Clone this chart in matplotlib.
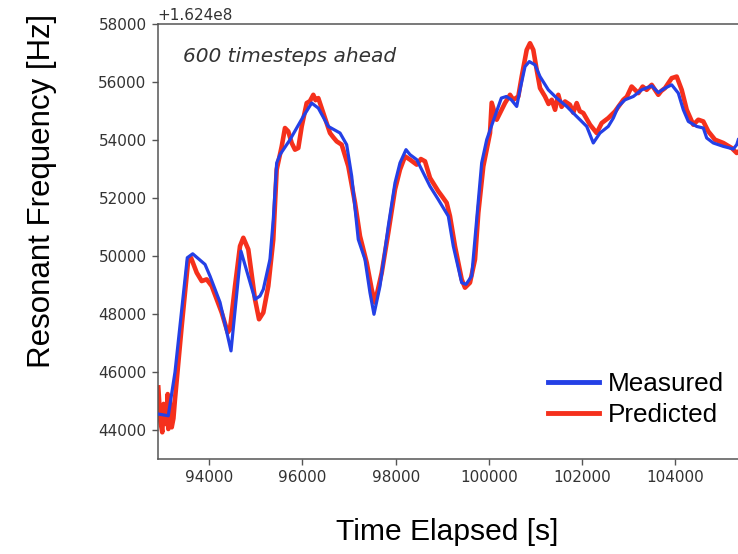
import matplotlib
matplotlib.use("Agg")
import matplotlib.pyplot as plt
import numpy as np

# offset used on the y axis
OFFSET = 1.624e8

# Measured (blue) - time [s], frequency minus offset [Hz]
t_measured = [92906, 93120, 93264, 93528, 93644, 93908, 94015, 94230, 94466,
              94680, 94980, 95088, 95159, 95302, 95373, 95446, 95517, 95732,
              96017, 96197, 96339, 96554, 96805, 96948, 97056, 97197, 97341,
              97448, 97534, 97663, 97841, 97985, 98092, 98221, 98307, 98451,
              98736, 98914, 99129, 99236, 99416, 99509, 99631, 99738, 99845,
              99953, 100052, 100267, 100374, 100481, 100597, 100667, 100775,
              100867, 100990, 101097, 101275, 101455, 101670, 101884, 102099,
              102240, 102384, 102562, 102670, 102777, 102921, 103099, 103279,
              103494, 103635, 103779, 103923, 104064, 104172, 104279, 104459,
              104601, 104674, 104815, 105030, 105245, 105318, 105352]
f_measured = [44551, 44492, 45997, 49945, 50080, 49714, 49312, 48406, 46730,
              50172, 48509, 48623, 48854, 49887, 51263, 53215, 53501, 54017,
              54819, 55281, 55108, 54475, 54248, 53845, 52754, 50575, 49886,
              48740, 47993, 48967, 51033, 52527, 53215, 53673, 53501, 53329,
              52410, 51952, 51377, 50344, 49084, 49026, 49312, 51263, 53215,
              54017, 54475, 55453, 55508, 55394, 55164, 55738, 56540,
              56713, 56599, 56196, 55738, 55453, 55164, 54819, 54475,
              53904, 54248, 54475, 54764, 55164, 55394, 55508, 55738,
              55876, 55645, 55797, 55910, 55625, 55050, 54647, 54475,
              54420, 54076, 53904, 53787, 53697, 53845, 54017]

# Predicted (red)
t_predicted = [92906, 92950, 92991, 93020, 93049, 93080, 93107, 93120, 93150,
               93193, 93230, 93264, 93408, 93549, 93607, 93730, 93837, 93944,
               94052, 94266, 94395, 94444, 94552, 94659, 94730, 94837, 94981,
               95067, 95159, 95266, 95373, 95446, 95554, 95624, 95695, 95768,
               95839, 95910, 95983, 96090, 96160, 96232, 96280, 96339, 96446,
               96590, 96660, 96734, 96841, 96983, 97127, 97234, 97378, 97485,
               97556, 97700, 97841, 97985, 98092, 98200, 98307, 98451, 98540,
               98629, 98736, 98914, 99000, 99094, 99165, 99272, 99416, 99487,
               99594, 99702, 99773, 99880, 100024, 100060, 100167, 100238,
               100345, 100453, 100524, 100631, 100704, 100811, 100882, 100953,
               101026, 101097, 101204, 101280, 101348, 101420, 101489, 101560,
               101633, 101740, 101810, 101884, 101950, 102026, 102170, 102313,
               102421, 102562, 102670, 102706, 102885, 102960, 103063, 103206,
               103300, 103385, 103494, 103635, 103700, 103779, 103923, 104030,
               104137, 104245, 104386, 104494, 104601, 104708, 104852, 105030,
               105210, 105318, 105352]
f_predicted = [45470, 44300, 43921, 44900, 44723, 44200, 45240, 44034, 45100,
               44093, 44400, 45068, 47590, 49886, 49945, 49428, 49140, 49198,
               48967, 48052, 47363, 47477, 48967, 50344, 50633, 50231, 48509,
               47821, 48052, 48967, 50575, 52985, 53787, 54420, 54303, 53904,
               53673, 53731, 54475, 55281, 55350, 55566, 55380, 55453, 54936,
               54248, 54100, 53959, 53845, 53098, 51838, 50689, 49773, 48854,
               48396, 49429, 50806, 52296, 52985, 53443, 53329, 53157, 53350,
               53271, 52699, 52238, 52050, 51838, 51377, 50344, 49198, 48912,
               49084, 49886, 51494, 53098, 54248, 55293, 54706, 54936,
               55281, 55566, 55394, 55508, 56196, 57115, 57346, 57115,
               56427, 55797, 55508, 55250, 55394, 55050, 55566, 55150,
               55336, 55222, 54950, 55281, 55000, 54936, 54534, 54248,
               54592, 54764, 54936, 54993, 55394, 55500, 55852, 55625,
               55850, 55738, 55910, 55566, 55700, 55797, 56141, 56196,
               55738, 55050, 54534, 54706, 54647, 54303, 54017, 53904,
               53731, 53559, 53600]

legend_labels = ["Measured", "Predicted"]
blue = "#2440e6"
red = "#f5301c"

fig = plt.figure(figsize=(7.38, 5.54), dpi=100)
ax = fig.add_axes([0.2137, 0.1715, 0.815, 0.7847])

ax.plot(np.array(t_predicted), np.array(f_predicted) + OFFSET, color=red, lw=3.3,
        label=legend_labels[1], zorder=2)
ax.plot(np.array(t_measured), np.array(f_measured) + OFFSET, color=blue, lw=2.3,
        label=legend_labels[0], zorder=3)

ax.set_xlim(92893, 105800)
ax.set_ylim(43000 + OFFSET, 58000 + OFFSET)
ax.set_xticks([94000, 96000, 98000, 100000, 102000, 104000])
ax.set_yticks(np.arange(44000, 58001, 2000) + OFFSET)
ax.ticklabel_format(axis="y", useOffset=OFFSET, style="plain")
ax.yaxis.get_offset_text().set_fontsize(11)
ax.yaxis.get_offset_text().set_color("#333333")

ax.tick_params(direction="out", length=4, width=1, colors="#555555",
               labelcolor="#333333", labelsize=11, pad=4)
for s in ["left", "top", "bottom"]:
    ax.spines[s].set_color("#555555")
    ax.spines[s].set_linewidth(1.1)
ax.spines["right"].set_visible(False)

ax.text(0.042, 0.925, "600 timesteps ahead", transform=ax.transAxes,
        fontsize=14.5, style="italic", color="#333333", ha="left", va="center")

handles, labels = ax.get_legend_handles_labels()
leg = ax.legend(handles[::-1], labels[::-1], loc="upper left",
                bbox_to_anchor=(548 / 738, 1 - 372 / 554),
                bbox_transform=fig.transFigure, frameon=False,
                borderpad=0, borderaxespad=0, handlelength=1.95,
                handletextpad=0.35, labelspacing=0.28,
                prop={"family": "Liberation Sans", "size": 18.8})
for line in leg.get_lines():
    line.set_linewidth(3.5)

fig.text(446.7 / 738, 1 - 532 / 554, "Time Elapsed [s]", ha="center", va="center",
         fontsize=21.6, family="Liberation Sans")
fig.text(42 / 738, 1 - 190.5 / 554, "Resonant Frequency [Hz]", ha="center",
         va="center", rotation=90, fontsize=22.5, family="Liberation Sans")

fig.savefig("out.png", dpi=100)
